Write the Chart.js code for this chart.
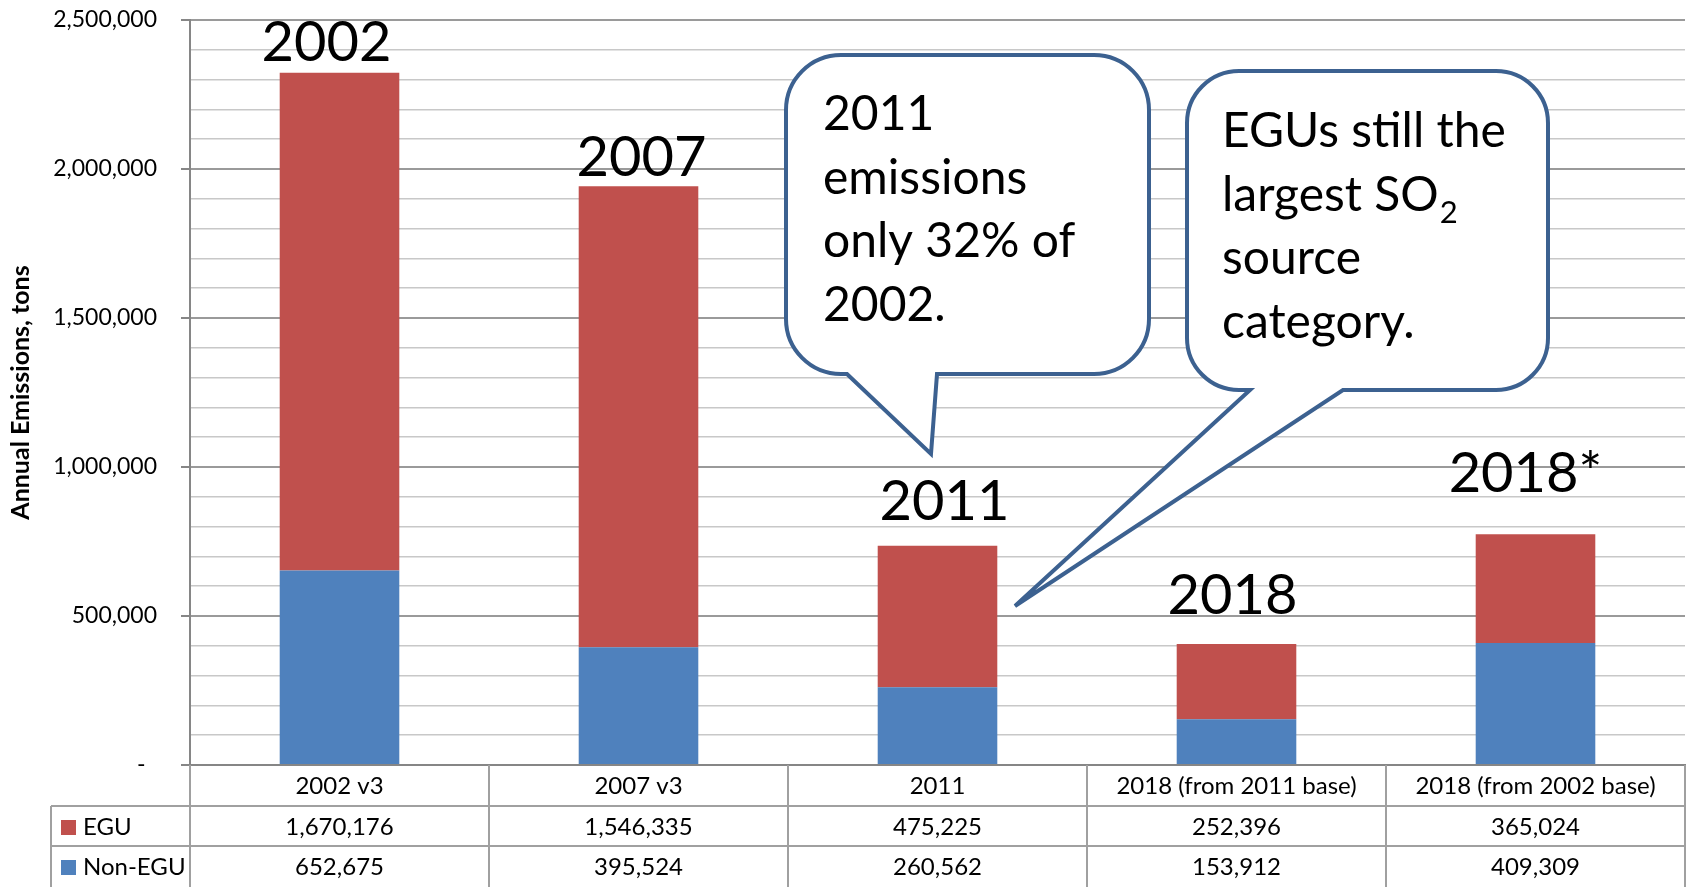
<!DOCTYPE html>
<html>
<head>
<meta charset="utf-8">
<title>SO2 emissions</title>
<script src="https://cdn.jsdelivr.net/npm/chart.js@4.4.0/dist/chart.umd.min.js"></script>
<style>
  html, body { margin: 0; padding: 0; background: #fff; }
  #wrap { width: 1690px; height: 887px; }
</style>
</head>
<body>
<div id="wrap"><canvas id="myChart" width="1690" height="887"></canvas></div>
<script>
// data
const categories = ["2002 v3", "2007 v3", "2011", "2018 (from 2011 base)", "2018 (from 2002 base)"];
const eguValues = [1670176, 1546335, 475225, 252396, 365024];
const nonEguValues = [652675, 395524, 260562, 153912, 409309];
const seriesNames = ["EGU", "Non-EGU"];
const yearLabels = ["2002", "2007", "2011", "2018", "2018*"];
const yMax = 2500000;
const yStep = 100000;
const yLabelStep = 500000;

const RED = "#C0504D";
const BLUE = "#4F81BD";
const FONT = "Lato, 'Open Sans', sans-serif";

// big year text: [dx from bar centre, gap above bar top]
const yearLabelShift = [[-13, 12], [3, 10], [7, 26], [-4, 30], [-10, 42]];

// speech bubbles (annotation shapes, canvas pixels)
const bubbles = [
  {
    l: 786, t: 55, r: 1149, b: 374, rad: 55,
    tailL: 847, tailR: 937, tipX: 931, tipY: 454,
    textX: 823, textY: 130,
    lines: [[["2011"]], [["emissions"]], [["only 32% of"]], [["2002."]]]
  },
  {
    l: 1187, t: 71, r: 1548, b: 390, rad: 52,
    tailL: 1250, tailR: 1343, tipX: 1015, tipY: 606,
    textX: 1222, textY: 147,
    lines: [[["EGUs still the"]], [["largest SO"], ["2", "sub"]], [["source"]], [["category."]]]
  }
];

Chart.defaults.font.family = FONT;
Chart.defaults.color = "#000";

function bubblePath(ctx, c) {
  ctx.beginPath();
  ctx.moveTo(c.l + c.rad, c.t);
  ctx.lineTo(c.r - c.rad, c.t);
  ctx.arcTo(c.r, c.t, c.r, c.t + c.rad, c.rad);
  ctx.lineTo(c.r, c.b - c.rad);
  ctx.arcTo(c.r, c.b, c.r - c.rad, c.b, c.rad);
  ctx.lineTo(c.tailR, c.b);
  ctx.lineTo(c.tipX, c.tipY);
  ctx.lineTo(c.tailL, c.b);
  ctx.lineTo(c.l + c.rad, c.b);
  ctx.arcTo(c.l, c.b, c.l, c.b - c.rad, c.rad);
  ctx.lineTo(c.l, c.t + c.rad);
  ctx.arcTo(c.l, c.t, c.l + c.rad, c.t, c.rad);
  ctx.closePath();
}

const extrasPlugin = {
  id: "extras",
  afterDraw(chart) {
    const ctx = chart.ctx;
    const area = chart.chartArea;
    ctx.save();

    // year labels above the bars
    const topMeta = chart.getDatasetMeta(1);
    ctx.font = "56px " + FONT;
    ctx.fillStyle = "#000";
    ctx.textAlign = "center";
    ctx.textBaseline = "alphabetic";
    yearLabels.forEach((txt, i) => {
      const bar = topMeta.data[i];
      const [dx, gap] = yearLabelShift[i];
      ctx.fillText(txt, bar.x + dx, bar.y - gap);
    });

    // speech bubbles
    bubbles.forEach((c) => {
      bubblePath(ctx, c);
      ctx.fillStyle = "#fff";
      ctx.fill();
      ctx.lineWidth = 4;
      ctx.lineJoin = "miter";
      ctx.miterLimit = 10;
      ctx.strokeStyle = "#3C6190";
      ctx.stroke();

      ctx.fillStyle = "#000";
      ctx.textAlign = "left";
      c.lines.forEach((parts, li) => {
        let x = c.textX;
        const y = c.textY + li * 63.5;
        parts.forEach(([txt, kind]) => {
          if (kind === "sub") {
            ctx.font = "31px " + FONT;
            ctx.fillText(txt, x + 1, y + 12);
          } else {
            ctx.font = "48px " + FONT;
            ctx.fillText(txt, x, y);
          }
          x += ctx.measureText(txt).width;
        });
      });
    });

    // data table below the plot
    const colW = (area.right - area.left) / categories.length;
    const top = area.bottom;
    const bottom = chart.height;
    const rowH = (bottom - top) / 3;
    const tableLeft = 51;
    ctx.strokeStyle = "#a0a0a0";
    ctx.lineWidth = 2;
    ctx.beginPath();
    for (let r = 1; r <= 2; r++) {
      const y = Math.round(top + r * rowH);
      ctx.moveTo(tableLeft, y);
      ctx.lineTo(area.right, y);
    }
    for (let i = 0; i <= categories.length; i++) {
      const x = Math.round(area.left + i * colW);
      ctx.moveTo(x, top);
      ctx.lineTo(x, bottom);
    }
    ctx.moveTo(tableLeft, Math.round(top + rowH));
    ctx.lineTo(tableLeft, bottom);
    ctx.stroke();

    ctx.font = "24px " + FONT;
    ctx.fillStyle = "#000";
    ctx.textAlign = "center";
    ctx.textBaseline = "middle";
    const rows = [categories, eguValues, nonEguValues];
    rows.forEach((row, r) => {
      const cy = top + r * rowH + rowH / 2 + 1;
      row.forEach((v, i) => {
        const cx = area.left + i * colW + colW / 2;
        const txt = typeof v === "number" ? v.toLocaleString("en-US") : v;
        ctx.fillText(txt, cx, cy);
      });
    });

    // legend keys in the table
    const keyColors = [RED, BLUE];
    ctx.textAlign = "left";
    seriesNames.forEach((name, k) => {
      const cy = top + (k + 1) * rowH + rowH / 2 + 1;
      ctx.fillStyle = keyColors[k];
      ctx.fillRect(61, Math.round(cy - 7.5), 15, 15);
      ctx.fillStyle = "#000";
      ctx.fillText(name, 83, cy);
    });

    ctx.restore();
  }
};

const isMajor = (v) => v % yLabelStep === 0;

const config = {
  type: "bar",
  data: {
    labels: categories,
    datasets: [
      { label: seriesNames[1], data: nonEguValues, backgroundColor: BLUE, borderWidth: 0 },
      { label: seriesNames[0], data: eguValues, backgroundColor: RED, borderWidth: 0 }
    ]
  },
  options: {
    responsive: false,
    animation: false,
    layout: { padding: { left: 0, top: 20, right: 5, bottom: 122 } },
    datasets: { bar: { categoryPercentage: 1, barPercentage: 0.4 } },
    plugins: {
      legend: { display: false },
      tooltip: { enabled: false },
      title: { display: false }
    },
    scales: {
      x: {
        stacked: true,
        grid: { display: false },
        ticks: { display: false },
        border: { display: true, color: "#868686", width: 2 },
        afterFit(scale) { scale.height = 0; }
      },
      y: {
        stacked: true,
        min: 0,
        max: yMax,
        afterFit(scale) {
          scale.width = 190;
          scale.paddingTop = 0;
          scale.paddingBottom = 0;
        },
        border: { display: true, color: "#868686", width: 2 },
        grid: {
          color: (c) => (isMajor(c.tick.value) ? "#9a9a9a" : "#c8c8c8"),
          lineWidth: (c) => (isMajor(c.tick.value) ? 2 : 1.5),
          tickColor: (c) => (isMajor(c.tick.value) ? "#868686" : "rgba(0,0,0,0)"),
          tickLength: 9
        },
        ticks: {
          stepSize: yStep,
          autoSkip: false,
          padding: 24,
          font: { size: 23 },
          color: "#000",
          callback: (v) => {
            if (!isMajor(v)) return "";
            return v === 0 ? "-\u2002" : v.toLocaleString("en-US");
          }
        },
        title: {
          display: true,
          text: "Annual Emissions, tons",
          font: { size: 25, weight: "bold" },
          color: "#000",
          padding: { top: 6, bottom: 0 }
        }
      }
    }
  },
  plugins: [extrasPlugin]
};

new Chart(document.getElementById("myChart"), config);
</script>
</body>
</html>
